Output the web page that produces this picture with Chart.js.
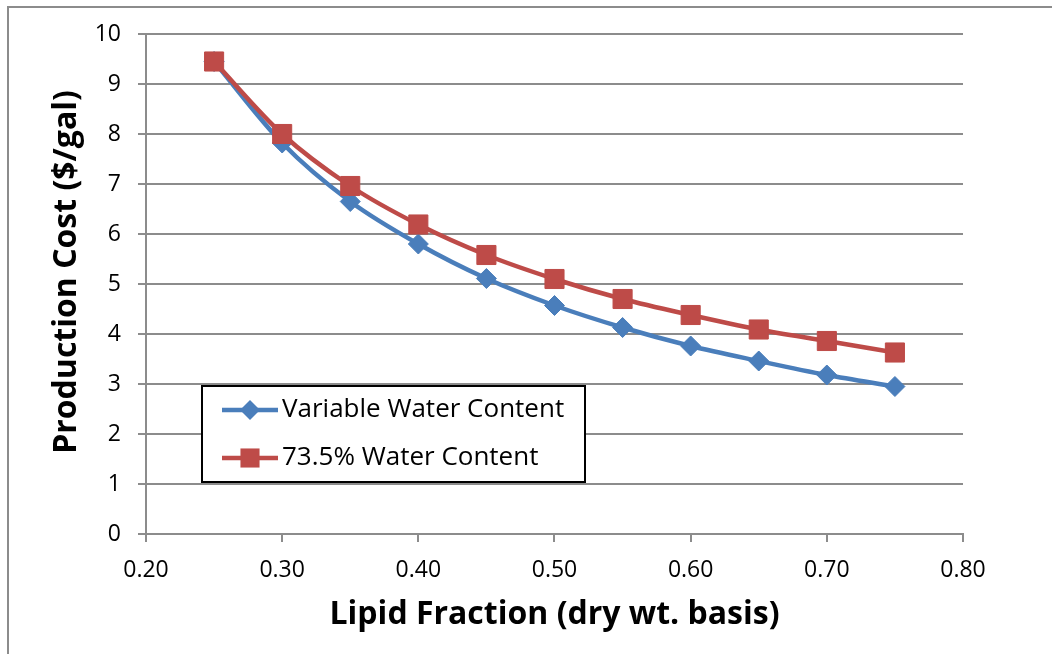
<!DOCTYPE html>
<html>
<head>
<meta charset="utf-8">
<script src="https://cdn.jsdelivr.net/npm/chart.js@4.4.1/dist/chart.umd.min.js"></script>
<style>
  html, body { margin: 0; padding: 0; background: #fff; }
  #wrap { position: relative; width: 1052px; height: 655px; }
  #frame {
    position: absolute; left: 7px; top: 6px; right: 0; bottom: 1px;
    border-left: 2px solid #8c8c8c; border-top: 2px solid #8c8c8c;
  }
  #wrap canvas { position: absolute; left: 0; top: 0; }
</style>
</head>
<body>
<div id="wrap">
  <div id="frame"></div>
  <canvas id="costChart" width="1052" height="655"></canvas>
</div>
<script>
// lipid fraction on a dry-weight basis
const lipidFraction = [0.25, 0.30, 0.35, 0.40, 0.45, 0.50, 0.55, 0.60, 0.65, 0.70, 0.75]
// production cost, $/gal
const variableWater = [9.45, 7.82, 6.65, 5.80, 5.11, 4.57, 4.13, 3.76, 3.46, 3.18, 2.95]
const fixedWater = [9.45, 8.00, 6.96, 6.19, 5.58, 5.10, 4.70, 4.38, 4.09, 3.86, 3.63]
const seriesNames = ["Variable Water Content", "73.5% Water Content"]

const xTicks = [0.20, 0.30, 0.40, 0.50, 0.60, 0.70, 0.80]
const yTicks = [0, 1, 2, 3, 4, 5, 6, 7, 8, 9, 10]

const xTitle = "Lipid Fraction (dry wt. basis)"
const yTitle = "Production Cost ($/gal)"

const BLUE = "#4a7ebb"
const RED = "#be4b48"
const GRID = "#8c8c8c"
const FONT = "'Open Sans', Lato, sans-serif"

const toPoints = ys => ys.map((y, i) => ({ x: lipidFraction[i], y: y }))

// boxed legend sitting inside the plot area
const boxLegend = {
  id: "boxLegend",
  afterDatasetsDraw(chart, args, opts) {
    const ctx = chart.ctx
    ctx.save()
    ctx.fillStyle = "#fff"
    ctx.fillRect(opts.left, opts.top, opts.width, opts.height)
    ctx.lineWidth = 2
    ctx.strokeStyle = "#000"
    ctx.strokeRect(opts.left, opts.top, opts.width, opts.height)

    chart.data.datasets.forEach((ds, i) => {
      const y = opts.top + opts.firstRow + i * opts.rowGap
      const x0 = opts.left + opts.lineStart
      const x1 = x0 + opts.lineLength
      const cx = (x0 + x1) / 2

      ctx.strokeStyle = ds.borderColor
      ctx.lineWidth = ds.borderWidth
      ctx.beginPath()
      ctx.moveTo(x0, y)
      ctx.lineTo(x1, y)
      ctx.stroke()

      const r = ds.pointRadius
      ctx.fillStyle = ds.pointBackgroundColor
      ctx.beginPath()
      if (ds.pointStyle === "rectRot") {
        ctx.moveTo(cx - r, y)
        ctx.lineTo(cx, y - r)
        ctx.lineTo(cx + r, y)
        ctx.lineTo(cx, y + r)
      } else {
        const s = r * Math.SQRT1_2
        ctx.rect(cx - s, y - s, 2 * s, 2 * s)
      }
      ctx.closePath()
      ctx.fill()

      ctx.fillStyle = "#000"
      ctx.font = "26px " + FONT
      ctx.textBaseline = "middle"
      ctx.textAlign = "left"
      ctx.fillText(ds.label, x1 + opts.textGap, y)
    })
    ctx.restore()
  }
}

// rotated value-axis title, set a little above the plot's middle
const sideTitle = {
  id: "sideTitle",
  afterDraw(chart, args, opts) {
    const ctx = chart.ctx
    ctx.save()
    ctx.translate(opts.x, opts.y)
    ctx.rotate(-Math.PI / 2)
    ctx.fillStyle = "#000"
    ctx.font = "bold 32px " + FONT
    ctx.textAlign = "center"
    ctx.textBaseline = "middle"
    ctx.fillText(opts.text, 0, 0)
    ctx.restore()
  }
}

const ctx = document.getElementById("costChart").getContext("2d")

new Chart(ctx, {
  type: "line",
  data: {
    datasets: [
      {
        label: seriesNames[0],
        data: toPoints(variableWater),
        borderColor: BLUE,
        backgroundColor: BLUE,
        pointBackgroundColor: BLUE,
        pointBorderColor: BLUE,
        borderWidth: 4.5,
        pointStyle: "rectRot",
        pointRadius: 10,
        pointBorderWidth: 1,
        cubicInterpolationMode: "monotone",
        order: 1
      },
      {
        label: seriesNames[1],
        data: toPoints(fixedWater),
        borderColor: RED,
        backgroundColor: RED,
        pointBackgroundColor: RED,
        pointBorderColor: RED,
        borderWidth: 4.5,
        pointStyle: "rect",
        pointRadius: 13.5,
        pointBorderWidth: 1,
        cubicInterpolationMode: "monotone",
        order: 0
      }
    ]
  },
  options: {
    responsive: false,
    animation: false,
    layout: { padding: { left: 10, top: 34, right: 89, bottom: 0 } },
    plugins: {
      legend: { display: false },
      tooltip: { enabled: false },
      boxLegend: {
        left: 202, top: 386, width: 383, height: 96,
        firstRow: 24, rowGap: 48,
        lineStart: 20, lineLength: 56, textGap: 4
      },
      sideTitle: { text: yTitle, x: 67, y: 272 }
    },
    scales: {
      x: {
        type: "linear",
        min: xTicks[0],
        max: xTicks[xTicks.length - 1],
        afterBuildTicks: scale => { scale.ticks = xTicks.map(v => ({ value: v })) },
        afterFit: scale => { scale.height = 121 },
        ticks: {
          color: "#000",
          padding: 15,
          font: { family: FONT, size: 23 },
          callback: v => Number(v).toFixed(2)
        },
        grid: { drawOnChartArea: false, drawTicks: true, tickLength: 8, color: GRID, lineWidth: 2 },
        border: { display: true, color: GRID, width: 2 },
        title: {
          display: true,
          text: xTitle,
          color: "#000",
          font: { family: FONT, size: 32, weight: "bold" },
          padding: { top: 0, bottom: 21 }
        }
      },
      y: {
        min: yTicks[0],
        max: yTicks[yTicks.length - 1],
        afterBuildTicks: scale => { scale.ticks = yTicks.map(v => ({ value: v })) },
        afterFit: scale => { scale.width = 136 },
        ticks: {
          color: "#000",
          padding: 17,
          font: { family: FONT, size: 23 }
        },
        grid: { drawTicks: true, tickLength: 8, color: GRID, lineWidth: 2 },
        border: { display: true, color: GRID, width: 2 }
      }
    }
  },
  plugins: [boxLegend, sideTitle]
})
</script>
</body>
</html>
